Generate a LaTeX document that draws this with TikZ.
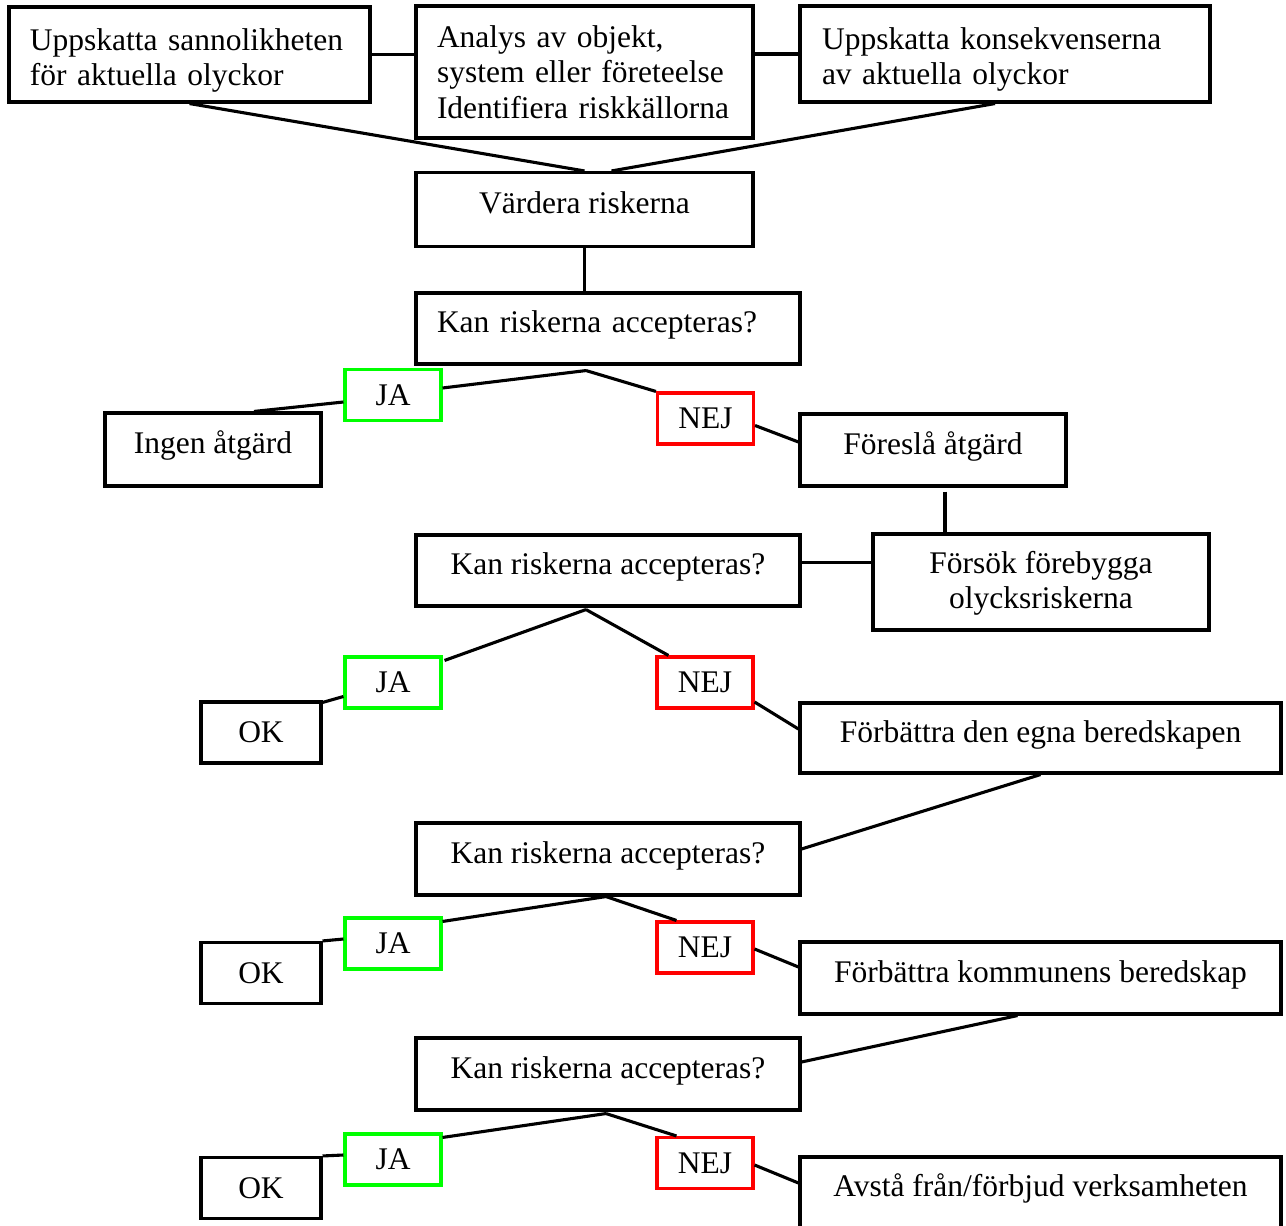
\documentclass[tikz,border=0pt]{standalone}
\usepackage{fontspec}
\setmainfont{Liberation Serif}
\usetikzlibrary{calc}

\begin{document}
\begin{tikzpicture}[x=1pt, y=-1pt,
	font=\fontsize{31.5}{35.5}\selectfont,
	box/.style={draw, line width=3.1pt, inner sep=0pt, text height=22pt, text depth=14pt},
	topbox/.style={draw, line width=3.1pt, align=left, inner ysep=0pt},
	okbox/.style={draw, line width=3.1pt, inner sep=0pt, minimum width=120pt, minimum height=61pt},
	ja/.style={draw=green, line width=3.1pt, inner sep=0pt, minimum width=96pt, minimum height=51pt},
	nej/.style={draw=red, line width=3.1pt, inner sep=0pt, minimum width=96pt, minimum height=51pt},
	lnk/.style={line width=3.1pt}]
	\path[use as bounding box] (0,0) rectangle (1286,1226);
	
	\node[topbox, text width=319pt, inner xsep=21pt, text height=43pt, text depth=52pt] (sann) at (189.5,54.5) {Uppskatta sannolikheten\\för aktuella olyckor};
	\node[topbox, text width=295pt, inner xsep=21pt, text height=41pt, text depth=91pt] (anal) at (584.5,72) {Analys av objekt,\\system eller företeelse\\Identifiera riskkällorna};
	\node[topbox, text width=366pt, inner xsep=22pt, text height=43pt, text depth=53pt] (kons) at (1005,54) {Uppskatta konsekvenserna\\av aktuella olyckor};
	\draw[lnk] (sann.east) -- (sann.east -| anal.west);
	\draw[lnk] (anal.east |- kons.west) -- (kons.west);
	
	\node[box, minimum width=337pt, minimum height=74pt] (vard) at (584.5,209.5) {Värdera riskerna};
	\draw[lnk] (sann.south) -- (vard.north);
	\draw[lnk] ($(kons.south)+(-10,0)$) -- ($(vard.north)+(27,0)$);
	
	% forsta fragan
	\node[box, minimum width=384pt, minimum height=71pt, text width=342pt, inner xsep=21pt, align=left] (kan1) at (608,328.5) {Kan riskerna accepteras?};
	\draw[lnk] (vard.south) -- (vard.south |- kan1.north);
	\coordinate (a1) at ($(kan1.south)+(-22,5)$);
	\node[ja] (ja1) at (393,395) {JA};
	\node[nej] (nej1) at (705.5,418.5) {NEJ};
	\node[box, minimum width=216pt, minimum height=73pt] (ingen) at (213,449.5) {Ingen åtgärd};
	\node[box, minimum width=266pt, minimum height=72pt] (fores) at (933,450) {Föreslå åtgärd};
	\node[box, minimum width=336pt, minimum height=96pt, align=center, text height=57pt, text depth=4pt] (fors) at (1041,582) {Försök förebygga\\olycksriskerna};
	\draw[lnk] (a1) -- ($(ja1.east)+(0,-7)$);
	\draw[lnk] ($(ja1.west)+(0,7)$) -- ($(ingen.north)+(41,0)$);
	\draw[lnk] (a1) -- (nej1.north west);
	\draw[lnk] ($(nej1.east)+(0,7)$) -- ($(fores.west)+(0,-8)$);
	\draw[lnk] ($(fores.south)+(12,4)$) -- ($(fors.north)+(-96,0)$);
	
	% andra fragan
	\node[box, minimum width=384pt, minimum height=71pt] (kan2) at (608,570.5) {Kan riskerna accepteras?};
	\coordinate (k2r) at ($(kan2.east)+(0,-8)$);
	\draw[lnk] (k2r) -- (k2r -| fors.west);
	\coordinate (a2) at ($(kan2.south)+(-22,2)$);
	\node[ja] (ja2) at (393,682.5) {JA};
	\node[nej] (nej2) at (705,682.5) {NEJ};
	\node[okbox] (ok1) at (261,732.5) {OK};
	\node[box, minimum width=481pt, minimum height=70pt] (egna) at (1040.5,738) {Förbättra den egna beredskapen};
	\draw[lnk] (a2) -- ($(ja2.north east)+(2,5)$);
	\draw[lnk] ($(ja2.west)+(0,14)$) -- ($(ok1.north east)+(0,2)$);
	\draw[lnk] (a2) -- ($(nej2.north west)+(13,0)$);
	\draw[lnk] ($(nej2.east)+(0,19.5)$) -- ($(egna.west)+(0,-9)$);
	
	% tredje fragan
	\node[box, minimum width=384pt, minimum height=72pt] (kan3) at (608,859) {Kan riskerna accepteras?};
	\draw[lnk] (egna.south) -- ($(kan3.east)+(0,-10)$);
	\coordinate (a3) at ($(kan3.south)+(-2,0)$);
	\node[ja] (ja3) at (393,943.5) {JA};
	\node[nej] (nej3) at (705,947.5) {NEJ};
	\node[okbox] (ok2) at (261,973) {OK};
	\node[box, minimum width=481pt, minimum height=72pt] (komm) at (1040.5,978) {Förbättra kommunens beredskap};
	\draw[lnk] (a3) -- ($(ja3.north east)+(0,5)$);
	\draw[lnk] ($(ja3.west)+(0,-4.5)$) -- (ok2.north east);
	\draw[lnk] (a3) -- ($(nej3.north west)+(21,0)$);
	\draw[lnk] ($(nej3.east)+(0,1.5)$) -- ($(komm.west)+(0,-11)$);
	
	% fjarde fragan
	\node[box, minimum width=384pt, minimum height=72pt] (kan4) at (608,1074) {Kan riskerna accepteras?};
	\draw[lnk] ($(komm.south)+(-23,0)$) -- ($(kan4.east)+(0,-12)$);
	\coordinate (a4) at ($(kan4.south)+(-2,2)$);
	\node[ja] (ja4) at (393,1159.5) {JA};
	\node[nej] (nej4) at (705,1163) {NEJ};
	\node[okbox] (ok3) at (261,1188) {OK};
	\node[box, minimum width=481pt, minimum height=71pt] (avsta) at (1040.5,1192.5) {Avstå från/förbjud verksamheten};
	\draw[lnk] (a4) -- ($(ja4.north east)+(0,5)$);
	\draw[lnk] ($(ja4.west)+(0,-4.5)$) -- (ok3.north east);
	\draw[lnk] (a4) -- ($(nej4.north west)+(21,0)$);
	\draw[lnk] ($(nej4.east)+(0,2)$) -- ($(avsta.west)+(0,-9.5)$);
\end{tikzpicture}
\end{document}
